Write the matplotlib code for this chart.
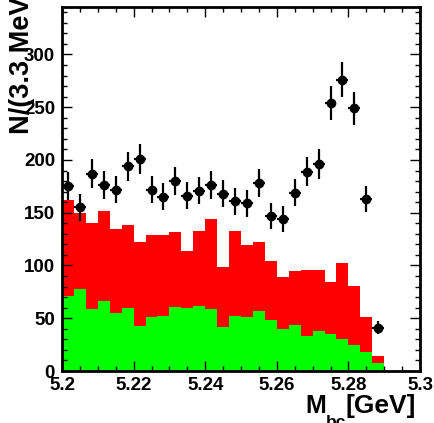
import matplotlib
matplotlib.use("Agg")
import matplotlib.pyplot as plt
from matplotlib.ticker import MultipleLocator
import numpy as np

plt.rcParams['font.family'] = ['Liberation Sans', 'DejaVu Sans']
plt.rcParams['font.weight'] = 'bold'

# M_bc histogram, 30 bins of 3.3 MeV from 5.2 to 5.3 GeV
x_lo, x_hi, n_bins = 5.2, 5.3, 30

# total background (red, stacked) and lower component (green)
red_total = [162, 150, 140, 152, 135, 138, 122, 129, 129, 132,
             114, 133, 144, 99, 133, 119, 122, 104, 89, 95,
             96, 96, 84, 102, 81, 51, 14, 0, 0, 0]
green = [71, 78, 59, 66, 55, 60, 43, 51, 52, 61,
         60, 62, 59, 42, 52, 51, 57, 48, 40, 44,
         33, 38, 35, 30, 25, 18, 8, 0, 0, 0]

# data points (first 27 bins filled)
data = [175, 155, 187, 176, 172, 194, 201, 172, 165, 180,
        166, 171, 176, 168, 161, 159, 178, 147, 144, 169,
        189, 196, 254, 276, 249, 163, 41]

edges = np.linspace(x_lo, x_hi, n_bins + 1)
centers = 0.5 * (edges[:-1] + edges[1:])
half_w = 0.5 * (edges[1] - edges[0])

fig = plt.figure(figsize=(4.35, 4.23), dpi=100)
ax = fig.add_axes([62/435, 52/423, 358/435, 364/423])

ax.stairs(red_total, edges, fill=True, color='#ff0000', lw=0)
ax.stairs(green, edges, fill=True, color='#00ff00', lw=0)

nd = len(data)
ax.errorbar(centers[:nd], data, yerr=np.sqrt(data), xerr=half_w,
            fmt='o', color='black', ms=6, elinewidth=1.6, capsize=0, zorder=5)

ax.set_xlim(x_lo, x_hi)
ax.set_ylim(0, 345)

ax.xaxis.set_major_locator(MultipleLocator(0.02))
ax.xaxis.set_minor_locator(MultipleLocator(0.005))
ax.yaxis.set_major_locator(MultipleLocator(50))
ax.yaxis.set_minor_locator(MultipleLocator(10))
ax.xaxis.set_major_formatter(matplotlib.ticker.FuncFormatter(lambda v, p: f'{v:g}'))

ax.tick_params(which='both', direction='in', top=True, right=True,
               labelsize=13.5, width=1.0)
ax.tick_params(which='major', length=7)
ax.tick_params(which='minor', length=3.5)
ax.tick_params(axis='x', pad=4)
ax.tick_params(axis='y', pad=5)
for lab in ax.get_xticklabels() + ax.get_yticklabels():
    lab.set_fontweight('bold')

for s in ax.spines.values():
    s.set_linewidth(2)

# ROOT-style titles; the y title runs off the top edge as in the original
fig.text(9/435, (423 - 134)/423, 'N/(3.3 MeV)', rotation=90, ha='left', va='bottom',
         fontsize=19.5, fontweight='bold')

# x title built from pieces so the subscript drops below the edge like the original
W, H = 435, 423
fig.text(305/W, (H - 413)/H, 'M', ha='left', va='baseline', fontsize=18, fontweight='bold')
fig.text(326/W, (H - 427)/H, 'bc', ha='left', va='baseline', fontsize=12.5, fontweight='bold')
fig.text(346/W, (H - 413)/H, '[GeV]', ha='left', va='baseline', fontsize=19, fontweight='bold')

fig.savefig('out.png', dpi=100)
